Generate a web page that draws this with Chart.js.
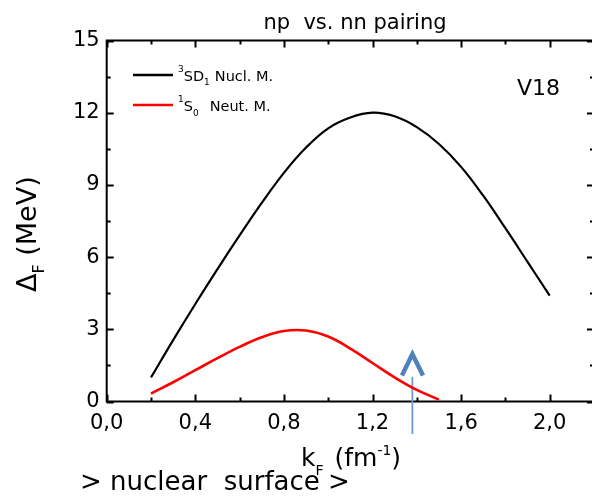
<!DOCTYPE html>
<html>
<head>
<meta charset="utf-8">
<title>np vs. nn pairing</title>
<script src="https://cdn.jsdelivr.net/npm/chart.js@4/dist/chart.umd.min.js"></script>
<style>
  html, body { margin: 0; padding: 0; background: #fff; overflow: hidden; }
  #wrap { width: 600px; height: 496px; }
</style>
</head>
<body>
<div id="wrap"><canvas id="gap-chart" width="600" height="496"></canvas></div>
<script>
/* ============================================================
   np vs. nn pairing gap, Delta_F against k_F
   ============================================================ */

/* --- data --- */
var kNp   = [0.2, 0.3, 0.4, 0.5, 0.6, 0.7, 0.8, 0.9, 1.0, 1.1, 1.2, 1.3, 1.4, 1.5, 1.6, 1.7, 1.8, 1.9, 2.0];
var gapNp = [1.0, 2.55, 4.05, 5.5, 6.9, 8.25, 9.5, 10.55, 11.35, 11.8, 12.0, 11.85, 11.4, 10.7, 9.75, 8.55, 7.2, 5.8, 4.4];

var kNn   = [0.2, 0.3, 0.4, 0.5, 0.6, 0.7, 0.8, 0.9, 1.0, 1.1, 1.2, 1.3, 1.4, 1.5];
var gapNn = [0.33, 0.8, 1.3, 1.8, 2.27, 2.67, 2.93, 2.95, 2.7, 2.2, 1.6, 1.0, 0.48, 0.08];

/* surface marker (arrow) */
var arrowShaftK   = [1.38, 1.38];
var arrowShaftGap = [1.03, -1.35];
var arrowHeadK    = [1.333, 1.38, 1.428];
var arrowHeadGap  = [1.08, 1.97, 1.08];

/* axes */
var xTicks = [0, 0.4, 0.8, 1.2, 1.6, 2.0];
var xMinor = [0.2, 0.6, 1.0, 1.4, 1.8];
var yTicks = [0, 3, 6, 9, 12, 15];
var yMinor = [1.5, 4.5, 7.5, 10.5, 13.5];

(function () {
  'use strict';

  var FONT = '"DejaVu Sans", Verdana, sans-serif';
  var BLUE = '#4f81bd';

  function pairs(xs, ys) {
    return xs.map(function (x, i) { return { x: x, y: ys[i] }; });
  }

  /* draw a run of text pieces: {t, size, dy} */
  function rich(ctx, parts, x, y) {
    parts.forEach(function (p) {
      ctx.font = p.size + 'px ' + FONT;
      ctx.fillText(p.t, x, y + (p.dy || 0));
      x += ctx.measureText(p.t).width + (p.gap || 0);
    });
    return x;
  }

  /* box with inward ticks on all four sides, plus the free text */
  var frame = {
    id: 'frame',
    beforeDatasetsDraw: function (chart) {
      var ctx = chart.ctx;
      var a = chart.chartArea;
      var xs = chart.scales.x, ys = chart.scales.y;
      ctx.save();
      ctx.strokeStyle = '#000';
      ctx.lineWidth = 2;
      ctx.strokeRect(a.left, a.top, a.right - a.left, a.bottom - a.top);

      function xTick(v, len) {
        var px = Math.round(xs.getPixelForValue(v)) + 0.5;
        ctx.moveTo(px, a.bottom); ctx.lineTo(px, a.bottom - len);
        ctx.moveTo(px, a.top); ctx.lineTo(px, a.top + len);
      }
      function yTick(v, len) {
        var py = Math.round(ys.getPixelForValue(v)) + 0.5;
        ctx.moveTo(a.left, py); ctx.lineTo(a.left + len, py);
        ctx.moveTo(a.right, py); ctx.lineTo(a.right - len, py);
      }
      ctx.beginPath();
      xTicks.forEach(function (v) { xTick(v, 7); });
      xMinor.forEach(function (v) { xTick(v, 4); });
      yTicks.forEach(function (v) { yTick(v, 7); });
      yMinor.forEach(function (v) { yTick(v, 4); });
      ctx.stroke();
      ctx.restore();
    },
    afterDraw: function (chart) {
      var ctx = chart.ctx;
      ctx.save();
      ctx.fillStyle = '#000';
      ctx.textBaseline = 'alphabetic';
      ctx.textAlign = 'left';

      /* title */
      ctx.font = '21px ' + FONT;
      ctx.textAlign = 'center';
      ctx.fillText('np  vs. nn pairing', 355, 29);
      ctx.textAlign = 'left';

      /* V18 */
      ctx.font = '22px ' + FONT;
      ctx.fillText('V18', 517, 95);

      /* legend */
      ctx.lineWidth = 2.5;
      ctx.strokeStyle = '#000';
      ctx.beginPath(); ctx.moveTo(133, 75); ctx.lineTo(173, 75); ctx.stroke();
      ctx.strokeStyle = '#ff0000';
      ctx.beginPath(); ctx.moveTo(133, 105); ctx.lineTo(173, 105); ctx.stroke();

      rich(ctx, [
        { t: '3', size: 9, dy: -9 },
        { t: 'SD', size: 14.5 },
        { t: '1', size: 9, dy: 4, gap: 5 },
        { t: 'Nucl. M.', size: 14.5 }
      ], 178, 81);
      rich(ctx, [
        { t: '1', size: 9, dy: -9 },
        { t: 'S', size: 14.5 },
        { t: '0', size: 9, dy: 5, gap: 11 },
        { t: 'Neut. M.', size: 14.5 }
      ], 178, 111);

      /* x title */
      rich(ctx, [
        { t: 'k', size: 25 },
        { t: 'F', size: 14, dy: 9, gap: 3 },
        { t: ' (fm', size: 25 },
        { t: '-1', size: 14, dy: -11 },
        { t: ')', size: 25 }
      ], 301, 466);

      /* footer */
      ctx.font = '26px ' + FONT;
      ctx.fillText('> nuclear  surface >', 80, 490);

      /* y title, rotated */
      ctx.translate(36, 292);
      ctx.rotate(-Math.PI / 2);
      rich(ctx, [
        { t: '\u0394', size: 27 },
        { t: 'F', size: 16, dy: 8 },
        { t: ' (MeV)', size: 27 }
      ], 0, 0);
      ctx.restore();
    }
  };

  function init() {
    var canvas = document.getElementById('gap-chart');
    if (!canvas || !window.Chart) { return; }

    new Chart(canvas, {
      type: 'line',
      data: {
        datasets: [
          {
            label: 'np',
            data: pairs(kNp, gapNp),
            borderColor: '#000', backgroundColor: '#000',
            borderWidth: 2.2, pointRadius: 0, tension: 0.4
          },
          {
            label: 'nn',
            data: pairs(kNn, gapNn),
            borderColor: '#ff0000', backgroundColor: '#ff0000',
            borderWidth: 2.6, pointRadius: 0, tension: 0.4
          },
          {
            label: 'shaft',
            data: pairs(arrowShaftK, arrowShaftGap),
            borderColor: '#6d9bd6', borderWidth: 1.8, pointRadius: 0, clip: false
          },
          {
            label: 'head',
            data: pairs(arrowHeadK, arrowHeadGap),
            borderColor: BLUE, borderWidth: 4.5, pointRadius: 0,
            borderJoinStyle: 'miter', borderCapStyle: 'butt', clip: false
          }
        ]
      },
      options: {
        responsive: false,
        devicePixelRatio: 1,
        animation: false,
        layout: { padding: { top: 40.5, right: 6, left: 0, bottom: 0 } },
        plugins: { legend: { display: false }, tooltip: { enabled: false } },
        scales: {
          x: {
            type: 'linear', min: 0, max: 2.2,
            grid: { display: false, drawTicks: false },
            border: { display: false },
            afterBuildTicks: function (s) { s.ticks = xTicks.map(function (v) { return { value: v }; }); },
            afterFit: function (s) { s.height = 94.5; },
            ticks: {
              autoSkip: false, maxRotation: 0, padding: 9, color: '#000',
              font: { family: FONT, size: 21 },
              callback: function (v) { return v.toFixed(1).replace('.', ','); }
            }
          },
          y: {
            type: 'linear', min: 0, max: 15,
            grid: { display: false, drawTicks: false },
            border: { display: false },
            afterBuildTicks: function (s) { s.ticks = yTicks.map(function (v) { return { value: v }; }); },
            afterFit: function (s) { s.width = 106.7; },
            ticks: {
              autoSkip: false, padding: 7, color: '#000',
              font: { family: FONT, size: 21 },
              callback: function (v) { return String(v); }
            }
          }
        }
      },
      plugins: [frame]
    });
  }

  if (document.readyState === 'loading') {
    document.addEventListener('DOMContentLoaded', init);
  } else {
    init();
  }
})();
</script>
</body>
</html>
